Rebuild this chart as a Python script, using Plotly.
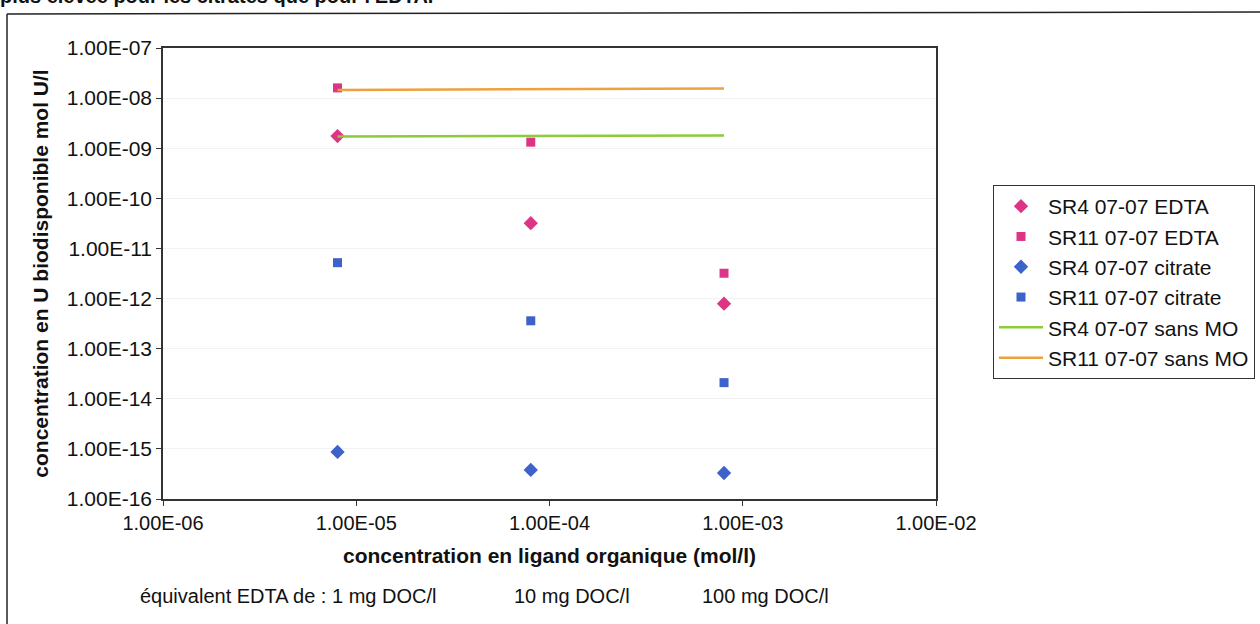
import plotly.graph_objects as go

# ---- data ----
x_ligand = [8e-6, 8e-5, 8e-4]
sr4_edta = [1.75e-9, 3.2e-11, 7.9e-13]
sr11_edta = [1.6e-8, 1.32e-9, 3.2e-12]
sr4_citrate = [8.7e-16, 3.8e-16, 3.3e-16]
sr11_citrate = [5.2e-12, 3.6e-13, 2.1e-14]
sr4_sans_mo = [1.72e-9, 1.76e-9, 1.8e-9]
sr11_sans_mo = [1.45e-8, 1.5e-8, 1.56e-8]

x_tickvals = [1e-6, 1e-5, 1e-4, 1e-3, 1e-2]
x_ticktext = ["1.00E-06", "1.00E-05", "1.00E-04", "1.00E-03", "1.00E-02"]
y_tickvals = [10.0 ** -e for e in range(16, 6, -1)]
y_ticktext = ["1.00E-%02d" % e for e in range(16, 6, -1)]

series_names = ["SR4 07-07 EDTA", "SR11 07-07 EDTA", "SR4 07-07 citrate",
                "SR11 07-07 citrate", "SR4 07-07 sans MO", "SR11 07-07 sans MO"]

PINK = "#DD3585"
BLUE = "#3D62C9"
GREEN = "#8CCB3B"
ORANGE = "#EEA13F"
FONT = "Liberation Sans, Arial, sans-serif"

W, H = 1260, 624
L, R, T, B = 163, 936, 48, 499  # plot area pixels


def px(xp):
    return (xp - L) / (R - L)


def py(yp):
    return (B - yp) / (B - T)


fig = go.Figure()
fig.add_trace(go.Scatter(x=x_ligand, y=sr4_edta, mode="markers", name=series_names[0],
                         marker=dict(symbol="diamond", size=11, color=PINK)))
fig.add_trace(go.Scatter(x=x_ligand, y=sr11_edta, mode="markers", name=series_names[1],
                         marker=dict(symbol="square", size=9, color=PINK)))
fig.add_trace(go.Scatter(x=x_ligand, y=sr4_citrate, mode="markers", name=series_names[2],
                         marker=dict(symbol="diamond", size=11, color=BLUE)))
fig.add_trace(go.Scatter(x=x_ligand, y=sr11_citrate, mode="markers", name=series_names[3],
                         marker=dict(symbol="square", size=9, color=BLUE)))
fig.add_trace(go.Scatter(x=x_ligand, y=sr4_sans_mo, mode="lines", name=series_names[4],
                         line=dict(color=GREEN, width=2.5)))
fig.add_trace(go.Scatter(x=x_ligand, y=sr11_sans_mo, mode="lines", name=series_names[5],
                         line=dict(color=ORANGE, width=2.5)))

axis_common = dict(type="log", showline=True, linecolor="#333333", linewidth=1.5,
                   mirror=True, ticks="outside", ticklen=5, tickcolor="#333333",
                   zeroline=False)

fig.update_xaxes(range=[-6, -2], tickvals=x_tickvals, ticktext=x_ticktext,
                 showgrid=False, tickfont=dict(family=FONT, size=20, color="#111"),
                 title=dict(text="<b>concentration en ligand organique (mol/l)</b>",
                            font=dict(family=FONT, size=21, color="#111"), standoff=16),
                 **axis_common)
fig.update_yaxes(range=[-16, -7], tickvals=y_tickvals, ticktext=y_ticktext,
                 showgrid=True, gridcolor="#F2F2F2", gridwidth=1,
                 tickfont=dict(family=FONT, size=21, color="#111"),
                 title=dict(text="<b>concentration en U biodisponible mol U/l</b>",
                            font=dict(family=FONT, size=21, color="#111"), standoff=12),
                 **axis_common)

annotations = [
    dict(text="équivalent EDTA de : 1 mg DOC/l", x=px(138), y=py(596), xanchor="left"),
    dict(text="10 mg DOC/l", x=px(512), y=py(596), xanchor="left"),
    dict(text="100 mg DOC/l", x=px(700), y=py(596), xanchor="left"),
]
ann = []
for a in annotations:
    ann.append(dict(text=a["text"], x=a["x"], y=a["y"], xref="paper", yref="paper",
                    xanchor=a["xanchor"], yanchor="middle", showarrow=False,
                    font=dict(family=FONT, size=20, color="#111")))
ann.append(dict(text="<b>plus élevée pour les citrates que pour l'EDTA.</b>",
                x=px(-2), y=py(-5), xref="paper", yref="paper", xanchor="left",
                yanchor="bottom", yshift=-14, showarrow=False,
                font=dict(family=FONT, size=20, color="#111")))

shapes = [
    dict(type="line", xref="paper", yref="paper", x0=px(7), x1=px(1262), y0=py(14), y1=py(12),
         line=dict(color="#222", width=1.5)),
    dict(type="line", xref="paper", yref="paper", x0=px(7), x1=px(7), y0=py(14), y1=py(626),
         line=dict(color="#222", width=1.5)),
]

fig.update_layout(
    width=W, height=H,
    margin=dict(l=L, r=W - R, t=T, b=H - B, autoexpand=False),
    paper_bgcolor="white", plot_bgcolor="white",
    font=dict(family=FONT, color="#111"),
    showlegend=True,
    legend=dict(x=px(993), y=py(185), xanchor="left", yanchor="top",
                bordercolor="#333", borderwidth=1, bgcolor="white",
                font=dict(family=FONT, size=21, color="#111"),
                itemwidth=44, tracegroupgap=0),
    annotations=ann,
    shapes=shapes,
)

fig.write_html("out.html", config={"displayModeBar": False},
               post_script="document.body.style.margin='0';document.body.style.overflow='hidden';")
